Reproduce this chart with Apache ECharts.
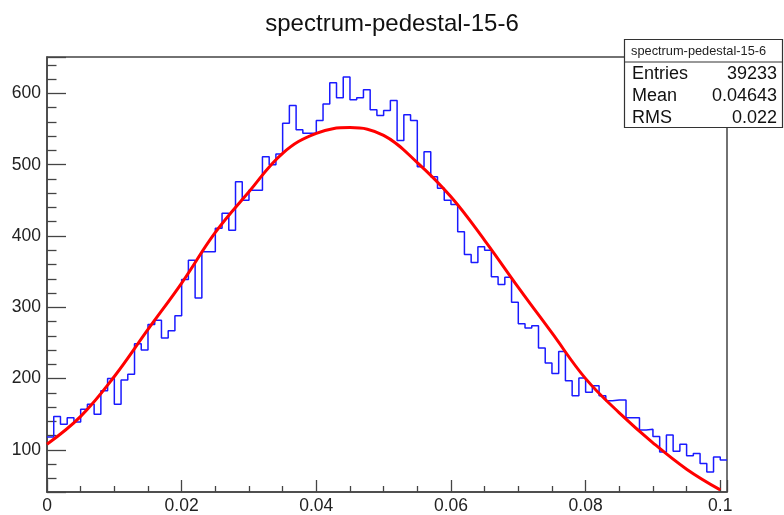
<!DOCTYPE html>
<html><head><meta charset="utf-8">
<script src="https://cdn.jsdelivr.net/npm/echarts@6/dist/echarts.min.js"></script>
<style>html,body{margin:0;padding:0;background:#fff}#c{width:784px;height:515px}</style>
</head><body><div id="c"></div>
<script>
const titleText = 'spectrum-pedestal-15-6';
const binStart = 0;
const binWidth = 0.001;
const counts = [
  118,147,136,145,139,157,164,150,183,200,
  164,198,206,249,240,276,282,257,267,288,
  339,366,313,378,378,411,432,408,476,450,
  464,464,511,500,515,558,583,549,544,544,
  562,585,615,594,623,591,594,605,577,569,
  576,590,534,570,562,497,518,483,467,450,
  444,406,374,363,385,380,343,332,342,307,
  277,271,274,243,222,207,238,197,176,201,
  181,190,176,169,170,170,145,145,128,129,
  119,97,121,98,108,92,95,81,69,90,
  86
];
const fitX = [0,0.005,0.01,0.015,0.02,0.025,0.03,0.035,0.04,0.045,0.05,0.055,0.06,0.065,0.07,0.075,0.08,0.085,0.09,0.095,0.1];
const fitY = [108,147,203,269,334,405,462,516,544,552,541,503,455,394,328,264,200,152,110,73,44];
const xTickLabels = ['0','0.02','0.04','0.06','0.08','0.1'];
const yTickLabels = ['100','200','300','400','500','600'];
const statNames = ['Entries','Mean','RMS'];
const statValues = ['39233','0.04643','0.022'];

const FONT = '"Liberation Sans", Arial, Helvetica, sans-serif';
const histData = counts.map((c, i) => [binStart + i * binWidth, c]);
histData.push([binStart + counts.length * binWidth, counts[counts.length - 1]]);
const fitData = fitX.map((x, i) => [x, fitY[i]]);

const chart = echarts.init(document.getElementById('c'), null, {renderer: 'canvas'});

const graphics = [
  {type: 'rect', z: 100, shape: {x: 624.5, y: 39.5, width: 158, height: 88},
   style: {fill: '#fff', stroke: '#333', lineWidth: 1.2}},
  {type: 'line', z: 101, shape: {x1: 624.5, y1: 62, x2: 782.5, y2: 62},
   style: {stroke: '#333', lineWidth: 1.2}},
  {type: 'text', z: 102, style: {text: titleText, x: 631, y: 51, font: '12.8px ' + FONT, fill: '#222', align: 'left', verticalAlign: 'middle'}}
];
statNames.forEach((n, i) => {
  graphics.push({type: 'text', z: 102, style: {text: n, x: 632, y: 74 + i * 22, font: '18px ' + FONT, fill: '#111', align: 'left', verticalAlign: 'middle'}});
  graphics.push({type: 'text', z: 102, style: {text: statValues[i], x: 777, y: 74 + i * 22, font: '18px ' + FONT, fill: '#111', align: 'right', verticalAlign: 'middle'}});
});

chart.setOption({
  animation: false,
  backgroundColor: '#fff',
  title: {text: titleText, left: 'center', top: 7,
    textStyle: {fontFamily: FONT, fontSize: 24, fontWeight: 'normal', color: '#111'}},
  grid: {left: 47, right: 57, top: 57, bottom: 20, show: true, borderColor: '#444', borderWidth: 1.5, backgroundColor: 'transparent'},
  xAxis: {
    type: 'value', min: 0, max: 0.101, interval: 0.02,
    axisLine: {show: true, lineStyle: {color: '#444', width: 1.5}},
    axisTick: {show: true, inside: true, length: 12, lineStyle: {color: '#444', width: 1.3}},
    minorTick: {show: true, splitNumber: 4, length: 6, lineStyle: {color: '#444', width: 1.3}},
    splitLine: {show: false},
    axisLabel: {fontFamily: FONT, fontSize: 17.5, color: '#222', margin: 5,
      formatter: v => { const i = Math.round(v / 0.02); return Math.abs(v - i * 0.02) < 1e-7 && i < xTickLabels.length ? xTickLabels[i] : ''; }}
  },
  yAxis: {
    type: 'value', min: 41, max: 651, minInterval: 100, maxInterval: 100,
    axisLine: {show: true, lineStyle: {color: '#444', width: 1.5}},
    axisTick: {show: true, inside: true, length: 19, lineStyle: {color: '#444', width: 1.3}},
    minorTick: {show: true, splitNumber: 5, length: 9.5, lineStyle: {color: '#444', width: 1.3}},
    splitLine: {show: false},
    axisLabel: {fontFamily: FONT, fontSize: 17.5, color: '#222', margin: 6,
      formatter: v => { const s = String(Math.round(v)); return (Math.abs(v - Math.round(v)) < 1e-6 && yTickLabels.includes(s)) ? s : ''; }}
  },
  series: [
    {type: 'line', name: 'hist', data: histData, step: 'end', symbol: 'none',
     lineStyle: {color: '#1a1aff', width: 1.5}, z: 2},
    {type: 'line', name: 'fit', data: fitData, smooth: 0.4, symbol: 'none',
     lineStyle: {color: '#ff0000', width: 3}, z: 3}
  ],
  graphic: graphics
});
</script></body></html>
